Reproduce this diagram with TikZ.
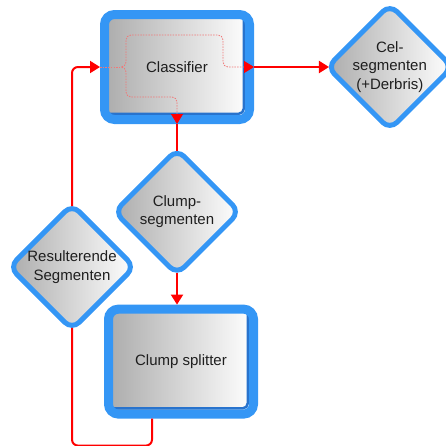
\documentclass[tikz,border=0pt]{standalone}
\usepackage{fontspec}
\setmainfont{Liberation Sans}
\usepackage{tikz}
\usetikzlibrary{arrows.meta,positioning,shapes.geometric,calc}
\definecolor{csedge}{RGB}{52,150,245}
\definecolor{csshade}{RGB}{40,115,205}
\definecolor{csgrey}{RGB}{172,172,172}
\definecolor{csink}{RGB}{30,30,30}
\definecolor{csline}{RGB}{255,0,0}
\definecolor{csflow}{RGB}{240,120,120}
\tikzset{
  csbox/.style={
    left color=csgrey, right color=white, draw=csedge, align=center,
    text=csink, font=\fontsize{15}{18.5}\selectfont
  },
  proc/.style={
    csbox, rectangle, line width=9pt, rounded corners=10pt, inner sep=0pt,
    minimum width=145pt, minimum height=105pt,
    path picture={
      \draw[csshade, line width=2.5pt, rounded corners=5pt]
        ([xshift=-5.75pt]path picture bounding box.north east)
        -- ([shift={(-5.75pt,5.75pt)}]path picture bounding box.south east)
        -- ([yshift=5.75pt]path picture bounding box.south west);
    }
  },
  dec/.style={
    csbox, diamond, line width=5pt, rounded corners=10pt,
    inner sep=-15pt, outer sep=-1.2pt, minimum size=124pt
  },
  cshead/.style={-{Triangle[length=10pt,width=12pt,color=csline]}},
  link/.style={draw=csline, line width=2pt, rounded corners=6pt},
  arr/.style={link, cshead},
  flow/.style={
    draw=csflow, line width=0.8pt, dash pattern=on 1.5pt off 1.2pt,
    rounded corners=5pt
  }
}
\begin{document}
\begin{tikzpicture}[x=1pt, y=1pt, node distance=27pt]
  \useasboundingbox (0,0) rectangle (446,-445);
  \node[proc] (classifier) at (177,-67) {Classifier};
  \node[dec, right=75pt of classifier] (cel) {Cel-\\segmenten\\(+Derbris)};
  \node[dec, below=of classifier] (clump) {Clump-\\segmenten};
  \node[proc, below=32pt of clump, xshift=4pt] (splitter) {Clump splitter};
  \node[dec] (result) at (72,-267) {Resulterende\\Segmenten};
  \draw[arr] (classifier) -- (cel);
  \draw[link] (classifier) -- (clump);
  \draw[arr] (clump) -- (clump |- splitter.north);
  \draw[link] ([xshift=-29pt]splitter.south) -- ++(0,-27) -| (result);
  \draw[arr] (result) |- (classifier);
  \draw[flow] (classifier.west) -- ([xshift=-54pt]classifier.center) coordinate (split);
  \draw[flow, cshead] (split) -| ([shift={(-51pt,32pt)}]classifier.center)
    -| ([xshift=46pt]classifier.center) -- (classifier.east);
  \draw[flow, cshead] (split) -| ([shift={(-51pt,-30pt)}]classifier.center)
    -| (classifier.south);
\end{tikzpicture}
\end{document}
